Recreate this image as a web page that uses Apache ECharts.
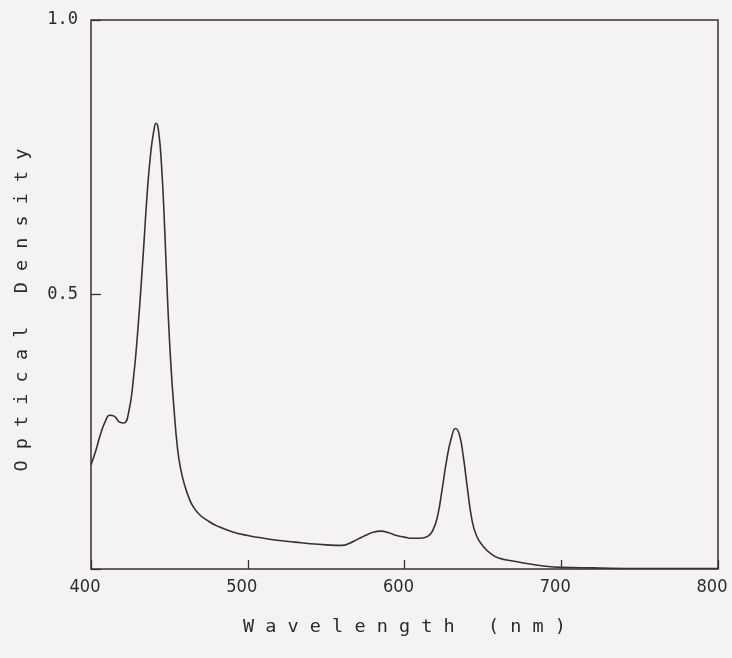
<!DOCTYPE html>
<html>
<head>
<meta charset="utf-8">
<script src="https://cdn.jsdelivr.net/npm/echarts@6/dist/echarts.min.js"></script>
<style>
  html, body { margin: 0; padding: 0; background: #f4f2f2; }
  #chart { width: 732px; height: 658px; }
</style>
</head>
<body>
<div id="chart"></div>
<script>
// Absorption spectrum: wavelength (nm) and optical density
const wavelengths = [400, 403, 406, 409, 412, 415, 418, 421, 424, 427, 430, 433, 436, 438, 440, 441.5, 443, 445, 447, 449,
  451, 453, 455, 457, 460, 463, 466, 470, 475, 480, 490, 500, 510, 520, 530, 540, 550, 560, 565, 570,
  575, 580, 585, 590, 595, 600, 605, 610, 615, 618, 621, 624, 627, 630, 632.5, 635, 637.5, 640, 643, 646,
  650, 655, 660, 670, 680, 690, 700, 720, 750, 800];
const density = [0.19, 0.215, 0.245, 0.268, 0.28, 0.278, 0.268, 0.266, 0.285, 0.345, 0.44, 0.56, 0.69, 0.755, 0.797, 0.812, 0.80, 0.735, 0.62, 0.48,
  0.37, 0.29, 0.225, 0.185, 0.15, 0.126, 0.11, 0.097, 0.087, 0.079, 0.068, 0.061, 0.056, 0.052, 0.049, 0.046, 0.044, 0.043, 0.047, 0.054,
  0.061, 0.067, 0.069, 0.066, 0.061, 0.058, 0.056, 0.056, 0.060, 0.07, 0.095, 0.145, 0.20, 0.24, 0.256, 0.245, 0.205, 0.15, 0.09, 0.06,
  0.042, 0.028, 0.02, 0.014, 0.009, 0.005, 0.003, 0.002, 0.001, 0.001];

const xTitle = 'W a v e l e n g t h   ( n m )';
const yTitle = 'O p t i c a l   D e n s i t y';

const ink = '#3a3034';
const textInk = '#2e2a2c';
const mono = '"DejaVu Sans Mono", "Liberation Mono", monospace';
const narrow = '"Liberation Sans Narrow", "DejaVu Sans Condensed", "Liberation Sans", sans-serif';

const chart = echarts.init(document.getElementById('chart'), null, { renderer: 'canvas' });
chart.setOption({
  backgroundColor: '#f4f2f2',
  animation: false,
  grid: {
    left: 91, right: 14, top: 20, bottom: 89,
    show: true, borderColor: ink, borderWidth: 1.5, backgroundColor: 'transparent'
  },
  xAxis: {
    type: 'value', min: 400, max: 800, interval: 100,
    axisLine: { show: false },
    axisTick: { inside: true, length: 9, lineStyle: { color: ink, width: 1.3 } },
    splitLine: { show: false },
    axisLabel: { color: textInk, fontFamily: narrow, fontSize: 18, margin: 9, padding: [0, 12, 0, 0] },
    name: xTitle, nameLocation: 'middle', nameGap: 49,
    nameTextStyle: { color: textInk, fontFamily: mono, fontSize: 18.5 }
  },
  yAxis: {
    type: 'value', min: 0, max: 1, interval: 0.5,
    axisLine: { show: false },
    axisTick: { inside: true, length: 10, lineStyle: { color: ink, width: 1.3 } },
    splitLine: { show: false },
    axisLabel: {
      color: textInk, fontFamily: mono, fontSize: 17, margin: 13,
      formatter: v => (v === 0 ? '' : v.toFixed(1))
    }
  },
  graphic: [{
    type: 'text',
    x: 22, y: 310,
    rotation: Math.PI / 2,
    style: {
      text: yTitle, fill: textInk, font: '18.5px ' + mono,
      align: 'center', verticalAlign: 'middle'
    }
  }],
  series: [{
    type: 'line',
    data: wavelengths.map((w, i) => [w, density[i]]),
    showSymbol: false,
    smooth: true,
    lineStyle: { color: ink, width: 1.6 }
  }]
});
</script>
</body>
</html>
